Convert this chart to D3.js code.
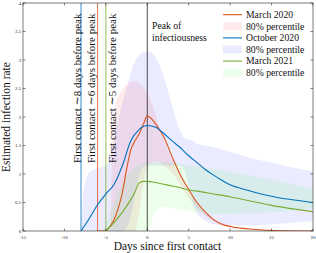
<!DOCTYPE html>
<html>
<head>
<meta charset="utf-8">
<script src="https://cdn.jsdelivr.net/npm/d3@7"></script>
<style>
  body { margin: 0; background: #fff; }
  svg { display: block; }
  text { font-family: "Liberation Serif", "Times New Roman", "DejaVu Serif", serif; }
</style>
</head>
<body>
<svg id="chart"></svg>
<script>
"use strict";

// tick values
const xTicks = [-15, -10, -5, 0, 5, 10, 15, 20];
const yTicks = [0, 0.5, 1, 1.5, 2, 2.5, 3, 3.5, 4];

// March 2020 (mean)
const marX = [-6, -5, -4.5, -4, -3.5, -3, -2.5, -2, -1.5, -1, -0.5, 0, 0.5, 1, 1.5, 2, 3, 4, 5, 6, 7, 8, 9, 10, 12, 15, 20];
const marY = [0, 0, 0.08, 0.2, 0.4, 0.68, 1.08, 1.42, 1.58, 1.7, 1.86, 2.02, 1.97, 1.88, 1.77, 1.65, 1.3, 0.98, 0.73, 0.5, 0.33, 0.2, 0.12, 0.08, 0.04, 0.01, 0];
// March 2020 band
const marBandX = [-4.45, -4.3, -4.1, -3.5, -3, -2.5, -2, -1.5, -1, -0.5, 0, 0.5, 1, 1.5, 2, 3, 4, 5, 6, 7, 8, 10, 12, 15];
const marBandLo = [0, 0, 0, 0, 0, 0, 0, 0, 0.3, 0.8, 1.1, 1.2, 1.22, 1.2, 1.15, 1.02, 0.8, 0.58, 0.4, 0.26, 0.16, 0.06, 0.02, 0];
const marBandHi = [0, 1.0, 2.0, 2.35, 2.48, 2.57, 2.61, 2.63, 2.6, 2.52, 2.42, 2.26, 2.05, 1.8, 1.6, 1.25, 0.95, 0.7, 0.5, 0.34, 0.22, 0.1, 0.04, 0];

// October 2020 (mean)
const octX = [-8, -7, -6, -5, -4, -3, -2, -1, 0, 1, 2, 3, 4, 5, 6, 7, 8, 9, 10, 12, 14, 16, 18, 20];
const octY = [0, 0.22, 0.46, 0.65, 0.82, 1.15, 1.58, 1.78, 1.85, 1.82, 1.71, 1.58, 1.46, 1.32, 1.2, 1.08, 0.98, 0.89, 0.81, 0.72, 0.64, 0.58, 0.54, 0.5];
// October 2020 band
const octBandX = [-8, -7.8, -7.5, -7, -6, -5, -4.5, -4, -3.5, -3, -2.5, -2, -1.5, -1, -0.5, 0, 0.5, 1, 1.5, 2, 2.5, 3, 3.5, 4, 4.5, 5, 5.5, 6, 7, 8, 10, 12, 15, 18, 20];
const octBandLo = [0, 0, 0, 0, 0, 0, 0, 0, 0, 0, 0.05, 0.25, 0.6, 0.95, 1.12, 1.15, 1.15, 1.15, 1.15, 1.15, 1.15, 1.15, 1.15, 1.14, 1.05, 0.8, 0.5, 0.3, 0.18, 0.12, 0.1, 0.1, 0.12, 0.15, 0.17];
const octBandHi = [0, 0.5, 0.85, 1.02, 1.1, 1.15, 1.3, 1.6, 1.95, 2.25, 2.5, 2.78, 2.97, 3.08, 3.14, 3.15, 3.13, 3.05, 2.9, 2.7, 2.45, 2.2, 1.95, 1.75, 1.63, 1.6, 1.58, 1.53, 1.5, 1.47, 1.39, 1.3, 1.2, 1.1, 1.05];

// March 2021 (mean)
const mar21X = [-5, -4, -3, -2, -1.5, -1, -0.5, 0, 1, 2, 3, 4, 5, 6, 8, 10, 12, 15, 18, 20];
const mar21Y = [0, 0.15, 0.33, 0.55, 0.68, 0.84, 0.87, 0.87, 0.85, 0.82, 0.79, 0.76, 0.72, 0.7, 0.65, 0.6, 0.54, 0.45, 0.38, 0.34];
// March 2021 band
const mar21BandX = [-5.5, -5, -4.5, -4, -3.5, -3, -2.5, -2, -1.5, -1, 0, 1, 2, 3, 4, 5, 6, 7, 8, 10, 12, 15, 18, 20];
const mar21BandLo = [0, 0, 0, 0, 0, 0, 0, 0, 0, 0, 0, 0.35, 0.42, 0.4, 0.38, 0.35, 0.32, 0.31, 0.3, 0.3, 0.31, 0.33, 0.37, 0.4];
const mar21BandHi = [0, 0.1, 0.3, 0.5, 0.68, 0.82, 0.95, 1.05, 1.12, 1.17, 1.2, 1.21, 1.21, 1.2, 1.18, 1.15, 1.13, 1.11, 1.09, 1.04, 0.98, 0.9, 0.8, 0.75];

// first contact markers and legend
const markerDays = [-8, -6, -5];
const markerLabels = ["First contact \u223C8 days before peak", "First contact \u223C6 days before peak", "First contact \u223C5 days before peak"];
const legendLabels = ["March 2020", "80% percentile", "October 2020", "80% percentile", "March 2021", "80% percentile"];

const width = 316;
const height = 253;
const margin = { top: 3, right: 3, bottom: 22, left: 23 };
const serif = "'Liberation Serif', 'Times New Roman', 'DejaVu Serif', serif";

const colors = { mar: "#D95319", oct: "#0072BD", mar21: "#77AC30" };
const bandFill = { mar: "#ff0000", oct: "#0000ff", mar21: "#00ff00" };
const bandAlpha = { mar: 0.08, oct: 0.08, mar21: 0.08 };

const svg = d3.select("#chart")
    .attr("width", width)
    .attr("height", height)
    .attr("font-family", serif);

const x = d3.scaleLinear().domain([-15, 20]).range([margin.left, width - margin.right]);
const y = d3.scaleLinear().domain([0, 4]).range([height - margin.bottom, margin.top]);

svg.append("clipPath").attr("id", "clip")
    .append("rect")
    .attr("x", margin.left).attr("y", margin.top)
    .attr("width", x(20) - x(-15)).attr("height", y(0) - y(4));

const plot = svg.append("g").attr("clip-path", "url(#clip)");

// bands
const area = d3.area()
    .x(d => x(d[0]))
    .y0(d => y(d[1]))
    .y1(d => y(d[2]))
    .curve(d3.curveMonotoneX);

const bands = [
    { key: "mar", xs: marBandX, lo: marBandLo, hi: marBandHi },
    { key: "oct", xs: octBandX, lo: octBandLo, hi: octBandHi },
    { key: "mar21", xs: mar21BandX, lo: mar21BandLo, hi: mar21BandHi }
];

bands.forEach(b => {
    plot.append("path")
        .attr("fill", bandFill[b.key])
        .attr("fill-opacity", bandAlpha[b.key])
        .attr("d", area(b.xs.map((v, i) => [v, b.lo[i], b.hi[i]])));
});

// vertical marker lines
markerDays.forEach((d, i) => {
    plot.append("line")
        .attr("x1", x(d)).attr("x2", x(d))
        .attr("y1", y(0)).attr("y2", y(4))
        .attr("stroke", [colors.oct, colors.mar, colors.mar21][i])
        .attr("stroke-width", 0.8);
});
plot.append("line")
    .attr("x1", x(0)).attr("x2", x(0))
    .attr("y1", y(0)).attr("y2", y(4))
    .attr("stroke", "#222")
    .attr("stroke-width", 0.8);

// mean lines
const line = d3.line()
    .x(d => x(d[0]))
    .y(d => y(d[1]))
    .curve(d3.curveMonotoneX);

const series = [
    { key: "mar", xs: marX, ys: marY },
    { key: "oct", xs: octX, ys: octY },
    { key: "mar21", xs: mar21X, ys: mar21Y }
];

series.forEach(s => {
    plot.append("path")
        .attr("fill", "none")
        .attr("stroke", colors[s.key])
        .attr("stroke-width", 1.1)
        .attr("d", line(s.xs.map((v, i) => [v, s.ys[i]])));
});

// axes box
svg.append("rect")
    .attr("x", x(-15)).attr("y", y(4))
    .attr("width", x(20) - x(-15)).attr("height", y(0) - y(4))
    .attr("fill", "none")
    .attr("stroke", "#262626")
    .attr("stroke-width", 0.6);

const tickLen = 2.5;
const axisG = svg.append("g").attr("stroke", "#262626").attr("stroke-width", 0.6);
xTicks.forEach(t => {
    axisG.append("line").attr("x1", x(t)).attr("x2", x(t)).attr("y1", y(0)).attr("y2", y(0) - tickLen);
    axisG.append("line").attr("x1", x(t)).attr("x2", x(t)).attr("y1", y(4)).attr("y2", y(4) + tickLen);
});
yTicks.forEach(t => {
    axisG.append("line").attr("x1", x(-15)).attr("x2", x(-15) + tickLen).attr("y1", y(t)).attr("y2", y(t));
    axisG.append("line").attr("x1", x(20)).attr("x2", x(20) - tickLen).attr("y1", y(t)).attr("y2", y(t));
});

svg.append("g")
    .selectAll("text")
    .data(xTicks)
    .join("text")
    .attr("x", d => x(d))
    .attr("y", y(0) + 7.8)
    .attr("text-anchor", "middle")
    .attr("font-family", serif)
    .attr("font-size", 5)
    .attr("fill", "#262626")
    .text(d => d);

svg.append("g")
    .selectAll("text")
    .data(yTicks)
    .join("text")
    .attr("x", x(-15) - 1.8)
    .attr("y", d => y(d) + 1.8)
    .attr("text-anchor", "end")
    .attr("font-family", serif)
    .attr("font-size", 5)
    .attr("fill", "#262626")
    .text(d => d);

// axis labels
svg.append("text")
    .attr("x", 167.5)
    .attr("y", 249.5)
    .attr("text-anchor", "middle")
    .attr("font-family", serif)
    .attr("font-size", 11.5)
    .attr("fill", "#111")
    .text("Days since first contact");

svg.append("text")
    .attr("transform", `translate(10,${(y(0) + y(4)) / 2}) rotate(-90)`)
    .attr("text-anchor", "middle")
    .attr("font-family", serif)
    .attr("font-size", 11.5)
    .attr("fill", "#111")
    .text("Estimated infection rate");

// marker annotations
const markerBase = [80.5, 95, 115.5];
markerLabels.forEach((t, i) => {
    svg.append("text")
        .attr("transform", `translate(${markerBase[i]},163) rotate(-90)`)
        .attr("font-family", serif)
        .attr("font-size", 11)
        .attr("fill", "#111")
        .text(t);
});

svg.append("text")
    .attr("x", 152).attr("y", 29)
    .attr("font-family", serif)
    .attr("font-size", 9.7)
    .attr("fill", "#111")
    .text("Peak of");
svg.append("text")
    .attr("x", 152).attr("y", 40.5)
    .attr("font-family", serif)
    .attr("font-size", 9.7)
    .attr("fill", "#111")
    .text("infectiousness");

// legend
const legendKeys = ["mar", "mar", "oct", "oct", "mar21", "mar21"];
const legend = svg.append("g");
legendLabels.forEach((lab, i) => {
    const cy = 14.7 + i * 11.6;
    const k = legendKeys[i];
    if (i % 2 === 0) {
        legend.append("line")
            .attr("x1", 223).attr("x2", 242)
            .attr("y1", cy).attr("y2", cy)
            .attr("stroke", colors[k])
            .attr("stroke-width", 1.1);
    } else {
        legend.append("rect")
            .attr("x", 223).attr("y", cy - 4)
            .attr("width", 19).attr("height", 8)
            .attr("fill", bandFill[k])
            .attr("fill-opacity", bandAlpha[k]);
    }
    legend.append("text")
        .attr("x", 246)
        .attr("y", cy + 3.3)
        .attr("font-family", serif)
        .attr("font-size", 9.7)
        .attr("fill", "#111")
        .text(lab);
});
</script>
</body>
</html>
